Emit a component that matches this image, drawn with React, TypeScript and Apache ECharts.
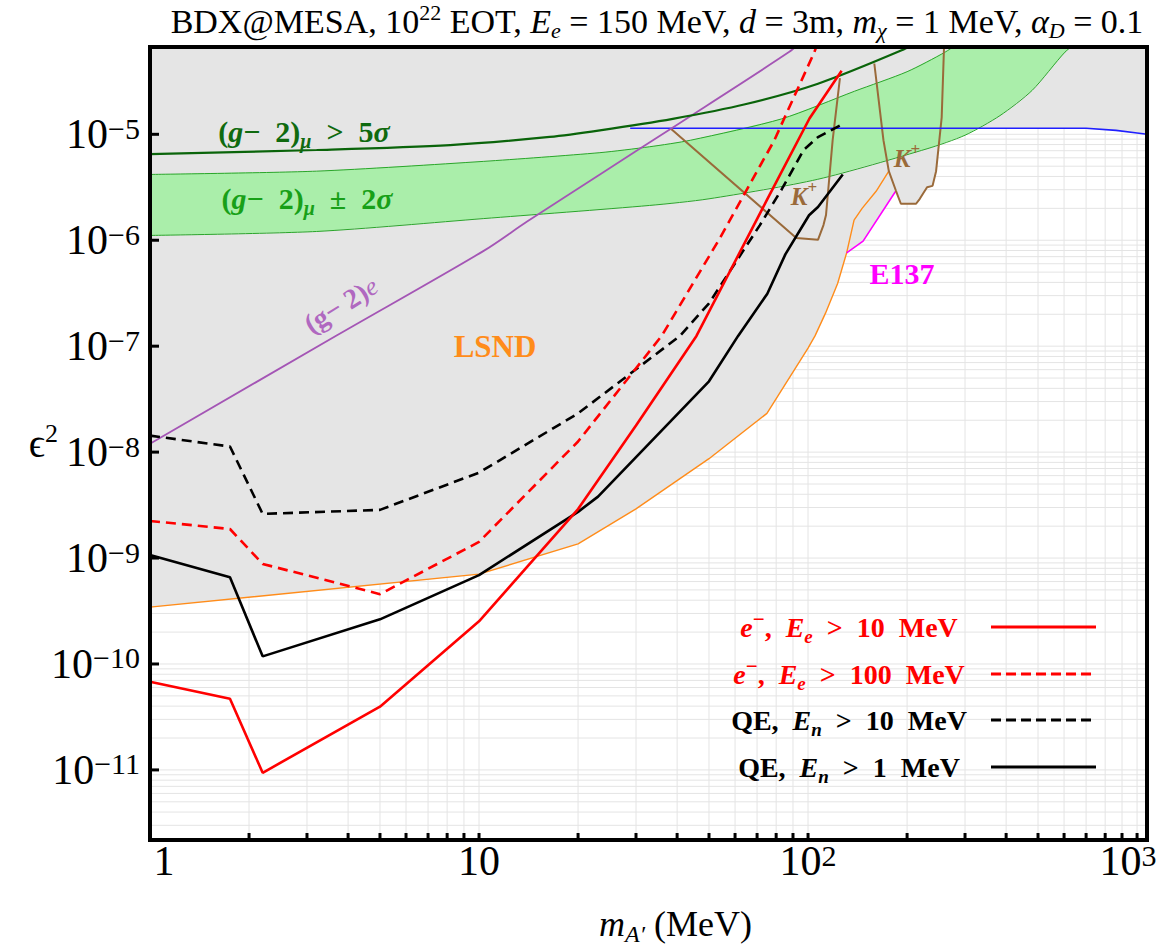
import React, { useEffect, useRef } from "react";
import * as echarts from "echarts";

const FONT = '"Liberation Serif", "Times New Roman", serif';

// axis ranges
const X_MIN = 1;
const X_MAX = 1072;
const Y_MIN = 2.18e-12;
const Y_MAX = 6.67e-5;

// decades used for ticks / grid
const xDecades = [1, 10, 100, 1000];
const yDecades = [1e-12, 1e-11, 1e-10, 1e-9, 1e-8, 1e-7, 1e-6, 1e-5];
const mults = [1, 2, 3, 4, 5, 6, 7, 8, 9];

// LSND (orange) lower edge
const lsndX = [1, 10, 20, 30, 50, 75, 100, 105, 113, 123, 131, 138, 146, 161, 176];
const lsndY = [3.44e-10, 7.05e-10, 1.36e-9, 2.91e-9, 8.67e-9, 2.32e-8, 9.6e-8, 1.25e-7, 2.05e-7, 3.9e-7, 7.6e-7, 1.55e-6, 2.0e-6, 2.9e-6, 4.5e-6];
// E137 (magenta)
const e137X = [131, 147, 185];
const e137Y = [7.6e-7, 9.8e-7, 2.93e-6];
// K+ contours (brown)
const kRightX = [159, 169.5, 176, 185, 191.5, 213, 218.6, 230, 239, 245, 254.8, 259.5];
const kRightY = [4.66e-5, 8.8e-6, 4.49e-6, 2.93e-6, 2.21e-6, 2.21e-6, 2.46e-6, 3.17e-6, 3.26e-6, 4.49e-6, 1.445e-5, 8e-5];
const kLeftX = [38.3, 92.1, 107.2, 111.4, 113.4, 118.8, 125];
const kLeftY = [1.13e-5, 1.05e-6, 1.01e-6, 1.39e-6, 1.73e-6, 8.8e-6, 3.39e-5];
// blue bound
const blueX = [28.8, 252.7, 700, 863, 1000, 1072];
const blueY = [1.14e-5, 1.14e-5, 1.14e-5, 1.09e-5, 1.03e-5, 1.0e-5];
// (g-2)_mu > 5 sigma
const gm5X = [1, 3.21, 8.17, 16.4, 23.3, 38.8, 64.4, 107.2, 192.5, 215];
const gm5Y = [6.49e-6, 7.11e-6, 7.91e-6, 9.44e-6, 1.09e-5, 1.4e-5, 1.92e-5, 3.0e-5, 6.2e-5, 7.5e-5];
// (g-2)_mu +- 2 sigma band
const bandUpX = [1, 3.21, 10.3, 23.3, 33, 44, 83.2, 138.4, 200, 261, 300];
const bandUpY = [4.18e-6, 4.49e-6, 5.55e-6, 6.71e-6, 7.63e-6, 8.8e-6, 1.4e-5, 2.55e-5, 3.9e-5, 5.97e-5, 8e-5];
const bandLoX = [1, 3.21, 10.3, 33, 50, 107, 230, 300, 383, 480, 604, 680];
const bandLoY = [1.11e-6, 1.21e-6, 1.6e-6, 2.13e-6, 2.46e-6, 3.76e-6, 7.3e-6, 9.8e-6, 1.5e-5, 2.6e-5, 5.97e-5, 8e-5];
// (g-2)_e
const geX = [1, 3.69, 10.3, 14, 23.3, 38.3, 87.5, 95];
const geY = [1.2e-8, 1.26e-7, 7.89e-7, 1.5e-6, 4.18e-6, 1.13e-5, 5.97e-5, 7.5e-5];
// BDX@MESA projections
const eSoftX = [1, 1.75, 2.2, 5, 10, 20, 30, 45.8, 75, 101, 126.5];
const eSoftY = [6.8e-11, 4.7e-11, 9.4e-12, 3.95e-11, 2.53e-10, 2.9e-9, 1.78e-8, 1.25e-7, 2.4e-6, 1.41e-5, 3.98e-5];
const eHardX = [1, 1.75, 2.2, 5, 10, 20, 35.9, 54, 79, 104.6, 108];
const eHardY = [2.24e-9, 1.88e-9, 8.8e-10, 4.56e-10, 1.42e-9, 1.26e-8, 1.25e-7, 1.05e-6, 8.8e-6, 6.0e-5, 8e-5];
const qe10X = [1, 1.75, 2.2, 5, 10, 20, 40.8, 50, 71.4, 83.2, 96.9, 107.2, 125];
const qe10Y = [1.43e-8, 1.13e-8, 2.61e-9, 2.85e-9, 6.4e-9, 2.32e-8, 1.25e-7, 2.54e-7, 1.39e-6, 3.03e-6, 7.1e-6, 9.4e-6, 1.21e-5];
const qe1X = [1, 1.75, 2.2, 5, 10, 20, 23, 50, 61.3, 75.2, 85.3, 100.7, 107.2, 127.5];
const qe1Y = [1.07e-9, 6.6e-10, 1.18e-10, 2.64e-10, 6.9e-10, 2.73e-9, 3.8e-9, 4.66e-8, 1.25e-7, 3.13e-7, 7.35e-7, 1.72e-6, 2.06e-6, 4.18e-6];

const pairs = (xs: number[], ys: number[]) => xs.map((x, i) => [x, ys[i]]);

const xTickVals: number[] = [];
xDecades.forEach((d) => mults.forEach((m) => {
  const v = m * d;
  if (v >= X_MIN && v < X_MAX) xTickVals.push(v);
}));
const yGridVals: number[] = [];
yDecades.forEach((d) => mults.forEach((m) => {
  const v = m * d;
  if (v > Y_MIN && v < Y_MAX) yGridVals.push(v);
}));
const yMajor = yDecades.filter((v) => v > Y_MIN && v < Y_MAX);

const envelope = [
  ...pairs(lsndX, lsndY).filter((p) => p[0] <= 131),
  ...pairs(e137X, e137Y).slice(1),
  ...pairs(kRightX, kRightY).slice(4, 10),
  ...pairs(blueX, blueY).slice(1),
];

const tickRich: any = {
  b: { fontFamily: FONT, fontSize: 42, lineHeight: 42, color: "#000" },
  s: { fontFamily: FONT, fontSize: 30, lineHeight: 30, verticalAlign: "top", color: "#000" },
  sr: { fontFamily: FONT, fontSize: 30, lineHeight: 30, verticalAlign: "top", padding: [0, 18, 0, 0], color: "#000" },
  one: { fontFamily: FONT, fontSize: 42, lineHeight: 42, padding: [0, 0, 0, 28], color: "#000" },
};
const powLabel = (v: number) => {
  const e = Math.round(Math.log10(v));
  if (e === 0) return "{one|1}";
  if (e === 1) return "{b|10}";
  if (e === 3) return "{b|10}{sr|3}";
  return `{b|10}{s|${e < 0 ? "−" : ""}${Math.abs(e)}}`;
};

const lineSeries = (name: string, data: number[][], color: string, width: number, dash: any = "solid", smooth: any = false) => ({
  type: "line",
  name,
  data,
  showSymbol: false,
  symbol: "none",
  smooth,
  z: 4,
  silent: true,
  lineStyle: { color, width, type: dash },
});

const one = [[10, 1e-8]];

const option: any = {
  animation: false,
  backgroundColor: "#fff",
  grid: { left: 150, right: 17, top: 47, bottom: 106, containLabel: false, outerBoundsMode: "none" },
  xAxis: [
    {
      type: "log", logBase: 10, min: X_MIN, max: X_MAX, position: "bottom", z: 10,
      axisLine: { show: true, onZero: false, lineStyle: { color: "#000", width: 4, cap: "square" } },
      axisTick: { show: false }, splitLine: { show: false }, minorTick: { show: false },
      axisLabel: { formatter: powLabel, margin: 0, rich: tickRich, showMinLabel: true, showMaxLabel: false },
      name: "{i|m}{sub|A′}{b| (MeV)}",
      nameLocation: "middle",
      nameGap: 62,
      nameMoveOverlap: false,
      nameTextStyle: {
        rich: {
          i: { fontFamily: FONT, fontSize: 36, fontStyle: "italic", lineHeight: 44, padding: [0, 0, 0, 54], color: "#000" },
          sub: { fontFamily: FONT, fontSize: 24, fontStyle: "italic", lineHeight: 24, verticalAlign: "bottom", color: "#000" },
          b: { fontFamily: FONT, fontSize: 36, lineHeight: 44, color: "#000" },
        },
      },
    },
    {
      type: "log", logBase: 10, min: X_MIN, max: X_MAX, position: "top", z: 10,
      axisLine: { show: true, onZero: false, lineStyle: { color: "#000", width: 4, cap: "square" } },
      axisTick: { show: false }, splitLine: { show: false }, axisLabel: { show: false },
    },
  ],
  yAxis: [
    {
      type: "log", logBase: 10, min: Y_MIN, max: Y_MAX, position: "left", z: 10,
      axisLine: { show: true, onZero: false, lineStyle: { color: "#000", width: 4, cap: "square" } },
      axisTick: { show: false }, splitLine: { show: false }, minorTick: { show: false },
      axisLabel: { formatter: powLabel, margin: 10, rich: tickRich, showMinLabel: false, showMaxLabel: false },
      name: "{e|ϵ}{s|2}",
      nameLocation: "middle",
      nameRotate: 0,
      nameGap: 92,
      nameMoveOverlap: false,
      nameTextStyle: {
        rich: {
          e: { fontFamily: FONT, fontSize: 40, lineHeight: 46, color: "#000" },
          s: { fontFamily: FONT, fontSize: 26, lineHeight: 26, verticalAlign: "top", color: "#000" },
        },
      },
    },
    {
      type: "log", logBase: 10, min: Y_MIN, max: Y_MAX, position: "right", z: 10,
      axisLine: { show: true, onZero: false, lineStyle: { color: "#000", width: 4, cap: "square" } },
      axisTick: { show: false }, splitLine: { show: false }, axisLabel: { show: false },
    },
  ],
  series: [
    {
      type: "custom", name: "gridlines", z: 0, silent: true, clip: true, data: one,
      renderItem: (params: any, api: any) => {
        const cs = params.coordSys;
        const children: any[] = [];
        xTickVals.forEach((v) => {
          const p = api.coord([v, 1e-8]);
          children.push({ type: "line", shape: { x1: p[0], y1: cs.y, x2: p[0], y2: cs.y + cs.height }, style: { stroke: "#e4e4e4", lineWidth: 1 } });
        });
        yGridVals.forEach((v) => {
          const p = api.coord([10, v]);
          children.push({ type: "line", shape: { x1: cs.x, y1: p[1], x2: cs.x + cs.width, y2: p[1] }, style: { stroke: "#e4e4e4", lineWidth: 1 } });
        });
        return { type: "group", children };
      },
    },
    {
      type: "custom", name: "excluded", z: 1, silent: true, clip: true, data: one,
      renderItem: (params: any, api: any) => {
        const cs = params.coordSys;
        const pts = [[cs.x, cs.y], ...envelope.map((p) => api.coord(p)), [cs.x + cs.width, cs.y]];
        return { type: "polygon", shape: { points: pts }, style: { fill: "#e5e5e5" } };
      },
    },
    {
      type: "custom", name: "band", z: 2, silent: true, clip: true, data: one,
      renderItem: (params: any, api: any) => {
        const up = pairs(bandUpX, bandUpY).map((p) => api.coord(p));
        const lo = pairs(bandLoX, bandLoY).map((p) => api.coord(p)).reverse();
        return { type: "polygon", shape: { points: [...up, ...lo] }, style: { fill: "#aaeeaa" } };
      },
    },
    { ...lineSeries("band upper", pairs(bandUpX, bandUpY), "#2aa52a", 1, "solid", 0.25), z: 3 },
    { ...lineSeries("band lower", pairs(bandLoX, bandLoY), "#2aa52a", 1, "solid", 0.25), z: 3 },
    lineSeries("LSND", pairs(lsndX, lsndY), "#ff8c1a", 1.4),
    lineSeries("E137", pairs(e137X, e137Y), "#ff00ff", 1.6),
    lineSeries("K+ right", pairs(kRightX, kRightY), "#9a6a3a", 2),
    lineSeries("K+ left", pairs(kLeftX, kLeftY), "#9a6a3a", 2),
    lineSeries("blue", pairs(blueX, blueY), "#1f1fff", 1.6),
    lineSeries("(g-2)e", pairs(geX, geY), "#a455b5", 1.8, "solid", 0.3),
    lineSeries("(g-2)mu 5sigma", pairs(gm5X, gm5Y), "#0a640a", 2.2, "solid", 0.3),
    { ...lineSeries("QE, En > 1 MeV", pairs(qe1X, qe1Y), "#000", 2.6), z: 5 },
    { ...lineSeries("QE, En > 10 MeV", pairs(qe10X, qe10Y), "#000", 2.6, [10, 6]), z: 5 },
    { ...lineSeries("e-, Ee > 100 MeV", pairs(eHardX, eHardY), "#ff0000", 2.6, [10, 6]), z: 5 },
    { ...lineSeries("e-, Ee > 10 MeV", pairs(eSoftX, eSoftY), "#ff0000", 2.6), z: 5 },
    {
      type: "custom", name: "ticks", z: 11, silent: true, clip: false, data: one,
      renderItem: (params: any, api: any) => {
        const cs = params.coordSys;
        const children: any[] = [];
        const bottom = cs.y + cs.height;
        xTickVals.forEach((v) => {
          const p = api.coord([v, 1e-8]);
          children.push({ type: "line", shape: { x1: p[0], y1: bottom, x2: p[0], y2: bottom - 7 }, style: { stroke: "#000", lineWidth: 3 } });
        });
        yMajor.forEach((v) => {
          const p = api.coord([10, v]);
          children.push({ type: "line", shape: { x1: cs.x, y1: p[1], x2: cs.x + 9, y2: p[1] }, style: { stroke: "#000", lineWidth: 3 } });
        });
        return { type: "group", children };
      },
    },
  ],
};

const txt = (x: number, y: number, text: string, font: string, fill: string, rich: any = {}, rotation = 0, align = "center") => ({
  type: "text",
  x,
  y,
  rotation,
  z: 100,
  silent: true,
  style: { text, x: 0, y: 0, font, fill, rich, align, verticalAlign: "middle", textAlign: align, textVerticalAlign: "middle" },
});

const boldRich = (size: number, fill: string, supScale = 0.68) => ({
  n: { fontFamily: FONT, fontSize: size, fontWeight: "bold", lineHeight: size + 10, fill },
  i: { fontFamily: FONT, fontSize: size, fontWeight: "bold", fontStyle: "italic", lineHeight: size + 10, fill },
  sub: { fontFamily: FONT, fontSize: Math.round(size * 0.68), fontWeight: "bold", fontStyle: "italic", lineHeight: Math.round(size * 0.68), verticalAlign: "bottom", fill },
  sup: { fontFamily: FONT, fontSize: Math.round(size * supScale), fontWeight: "bold", lineHeight: Math.round(size * supScale), verticalAlign: "top", fill },
});

const titleRich = {
  n: { fontFamily: FONT, fontSize: 34, lineHeight: 40, fill: "#000" },
  i: { fontFamily: FONT, fontSize: 34, fontStyle: "italic", lineHeight: 40, fill: "#000" },
  sub: { fontFamily: FONT, fontSize: 22, fontStyle: "italic", lineHeight: 22, verticalAlign: "bottom", fill: "#000" },
  sup: { fontFamily: FONT, fontSize: 22, lineHeight: 22, verticalAlign: "top", fill: "#000" },
};

const legendRows = [
  { text: "{i|e}{sup|−}{n|,  }{i|E}{sub|e}{n|  >  10  MeV}", color: "#ff0000", dash: null, y: 627 },
  { text: "{i|e}{sup|−}{n|,  }{i|E}{sub|e}{n|  >  100  MeV}", color: "#ff0000", dash: [10, 5], y: 674 },
  { text: "{n|QE,  }{i|E}{sub|n}{n|  >  10  MeV}", color: "#000000", dash: [10, 5], y: 720 },
  { text: "{n|QE,  }{i|E}{sub|n}{n|  >  1  MeV}", color: "#000000", dash: null, y: 767 },
];

const graphics: any[] = [
  txt(657, 21, "{n|BDX@MESA, 10}{sup|22}{n| EOT, }{i|E}{sub|e}{n| = 150 MeV, }{i|d}{n| = 3m, }{i|m}{sub|χ}{n| = 1 MeV, }{i|α}{sub|D}{n| = 0.1}", `34px ${FONT}`, "#000", titleRich),
  txt(304, 131, "{n|(}{i|g}{n|−  2)}{sub|μ}{n|  >  5}{i|σ}", `bold 30px ${FONT}`, "#0f6a0f", boldRich(30, "#0f6a0f")),
  txt(307, 198, "{n|(}{i|g}{n|−  2)}{sub|μ}{n|  ±  2}{i|σ}", `bold 30px ${FONT}`, "#18a018", boldRich(30, "#18a018")),
  txt(341, 305, "{n|(g− 2)}{i|e}", `28px ${FONT}`, "#b068c0", {
    n: { fontFamily: FONT, fontSize: 28, fontWeight: "bold", fill: "#b068c0", lineHeight: 34 },
    i: { fontFamily: FONT, fontSize: 26, fontStyle: "italic", fill: "#b068c0", lineHeight: 34 },
  }, 0.55),
  txt(495, 346, "{n|LSND}", `bold 31px ${FONT}`, "#ff8c1a", boldRich(31, "#ff8c1a")),
  txt(902, 273, "{n|E137}", `bold 30px ${FONT}`, "#ff00ff", boldRich(30, "#ff00ff")),
  txt(804, 196, "{i|K}{sup|+}", `bold 25px ${FONT}`, "#9a6a3a", boldRich(25, "#9a6a3a")),
  txt(907, 158, "{i|K}{sup|+}", `bold 25px ${FONT}`, "#9a6a3a", boldRich(25, "#9a6a3a")),
];
legendRows.forEach((r) => {
  graphics.push(txt(849, r.y, r.text, `bold 28px ${FONT}`, r.color, boldRich(28, r.color, 0.75)));
  graphics.push({
    type: "line", z: 100, silent: true,
    shape: { x1: 991, y1: r.y, x2: 1096, y2: r.y },
    style: { stroke: r.color, lineWidth: 3, lineDash: r.dash || undefined },
  });
});
option.graphic = { elements: graphics };

export default function App() {
  const ref = useRef<HTMLDivElement>(null);
  useEffect(() => {
    const chart = echarts.init(ref.current as HTMLDivElement, null, { renderer: "svg" });
    chart.setOption(option);
    return () => chart.dispose();
  }, []);
  return (
    <div
      ref={ref}
      style={{ position: "fixed", left: 0, top: 0, width: 1164, height: 946, background: "#fff" }}
    />
  );
}
